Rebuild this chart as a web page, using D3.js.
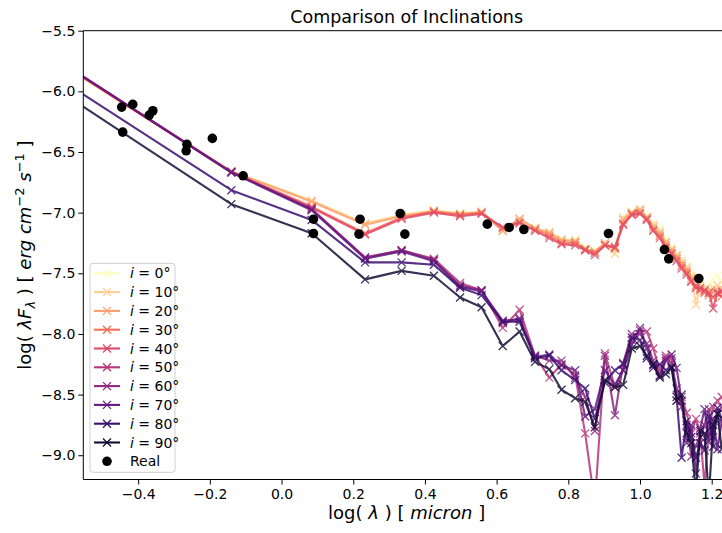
<!DOCTYPE html>
<html lang="en">
<head>
  <meta charset="UTF-8">
  <title>Comparison of Inclinations</title>
  <script src="https://d3js.org/d3.v7.min.js"></script>
  <style>
    html, body {
      margin: 0;
      padding: 0;
      background: white;
      overflow: hidden;
    }
    svg {
      display: block;
      font-family: "DejaVu Sans", sans-serif;
    }
  </style>
</head>
<body>
<svg id="chart" width="722" height="533"></svg>

<script>
  // model wavelength grid, log(lambda / micron)
  const logLam = [-0.70, -0.14, 0.084, 0.233, 0.335, 0.425, 0.498, 0.558, 0.617, 0.664,
    0.707, 0.747, 0.781, 0.819, 0.847, 0.874, 0.902, 0.930, 0.953, 0.977,
    1.000, 1.019, 1.037, 1.055, 1.072, 1.088, 1.102, 1.116, 1.130, 1.143,
    1.156, 1.168, 1.180, 1.192, 1.204, 1.216, 1.228, 1.240];

  const inclinations = [0, 10, 20, 30, 40, 50, 60, 70, 80, 90];

  // log(lambda F_lambda) for each inclination
  const fluxI0 = [-5.62, -6.66, -6.90, -7.09, -7.02, -6.98, -7.00, -6.99, -7.14, -7.07,
    -7.12, -7.17, -7.22, -7.22, -7.28, -7.31, -7.27, -7.33, -7.05, -6.99,
    -6.97, -7.03, -7.08, -7.13, -7.22, -7.28, -7.33, -7.38, -7.44, -7.49,
    -7.55, -7.58, -7.60, -7.62, -7.55, -7.52, -7.58, -7.60];
  const fluxI10 = [-5.62, -6.66, -6.90, -7.09, -7.02, -6.98, -7.01, -6.99, -7.15, -7.06,
    -7.13, -7.16, -7.22, -7.23, -7.30, -7.33, -7.26, -7.34, -7.04, -7.00,
    -6.97, -7.04, -7.10, -7.15, -7.24, -7.30, -7.35, -7.40, -7.45, -7.52,
    -7.76, -7.60, -7.63, -7.64, -7.62, -7.60, -7.63, -7.66];
  const fluxI20 = [-5.61, -6.66, -6.91, -7.10, -7.03, -6.99, -7.01, -7.00, -7.15, -7.05,
    -7.13, -7.17, -7.23, -7.24, -7.31, -7.32, -7.25, -7.30, -7.06, -7.00,
    -6.98, -7.04, -7.12, -7.17, -7.25, -7.31, -7.36, -7.42, -7.47, -7.54,
    -7.62, -7.63, -7.65, -7.66, -7.66, -7.64, -7.66, -7.68];
  const fluxI30 = [-5.61, -6.665, -6.95, -7.17, -7.04, -6.99, -7.02, -7.00, -7.13, -7.09,
    -7.14, -7.19, -7.25, -7.25, -7.30, -7.33, -7.27, -7.28, -7.09, -7.01,
    -7.00, -7.05, -7.14, -7.19, -7.27, -7.33, -7.38, -7.44, -7.49, -7.56,
    -7.60, -7.64, -7.66, -7.68, -7.70, -7.67, -7.69, -7.71];
  const fluxI40 = [-5.60, -6.665, -6.96, -7.18, -7.05, -7.00, -7.03, -7.01, -7.12, -7.08,
    -7.15, -7.21, -7.26, -7.27, -7.31, -7.35, -7.27, -7.29, -7.10, -7.02,
    -7.01, -7.06, -7.15, -7.21, -7.29, -7.34, -7.40, -7.46, -7.51, -7.57,
    -7.62, -7.62, -7.64, -7.66, -7.79, -7.66, -7.65, -7.70];
  const fluxI50 = [-5.60, -6.665, -6.97, -7.37, -7.31, -7.38, -7.58, -7.64, -7.95, -7.80,
    -8.18, -8.36, -8.25, -8.34, -8.82, -9.40, -8.16, -8.44, -8.30, -8.05,
    -7.97, -7.98, -8.12, -8.30, -8.18, -8.20, -8.55, -8.52, -8.65, -8.82,
    -8.70, -8.82, -9.25, -8.80, -8.60, -8.55, -8.52, -8.58];
  const fluxI60 = [-5.60, -6.665, -6.97, -7.37, -7.31, -7.39, -7.60, -7.64, -7.91, -7.87,
    -8.18, -8.22, -8.22, -8.36, -8.52, -8.80, -8.18, -8.67, -8.24, -8.00,
    -8.00, -8.08, -8.22, -8.34, -8.20, -8.24, -8.45, -8.60, -8.75, -9.01,
    -8.92, -8.85, -8.75, -8.62, -8.85, -8.66, -8.60, -8.65];
  const fluxI70 = [-5.60, -6.67, -6.98, -7.38, -7.32, -7.40, -7.61, -7.65, -7.89, -7.88,
    -8.19, -8.17, -8.26, -8.30, -8.68, -8.62, -8.30, -8.42, -8.30, -8.09,
    -7.95, -8.12, -8.26, -8.35, -8.22, -8.17, -8.28, -8.55, -8.90, -8.75,
    -9.15, -8.78, -8.62, -8.88, -8.70, -8.95, -8.72, -8.80];
  const fluxI80 = [-5.745, -6.815, -7.06, -7.41, -7.41, -7.43, -7.62, -7.68, -7.90, -7.90,
    -8.20, -8.18, -8.30, -8.38, -8.45, -8.70, -8.40, -8.30, -8.25, -8.03,
    -8.05, -8.20, -8.28, -8.25, -8.30, -8.27, -8.52, -9.02, -8.72, -8.85,
    -9.02, -8.90, -8.96, -8.68, -8.93, -8.61, -8.70, -8.75];
  const fluxI90 = [-5.84, -6.93, -7.17, -7.55, -7.48, -7.52, -7.70, -7.78, -8.10, -7.98,
    -8.23, -8.29, -8.46, -8.53, -8.56, -8.77, -8.38, -8.44, -8.42, -8.12,
    -8.10, -8.18, -8.25, -8.36, -8.33, -8.28, -8.55, -8.50, -8.82, -8.90,
    -9.30, -8.80, -8.82, -9.35, -8.75, -8.66, -8.95, -8.85];

  const fluxSeries = [fluxI0, fluxI10, fluxI20, fluxI30, fluxI40,
    fluxI50, fluxI60, fluxI70, fluxI80, fluxI90];

  // observed photometry
  const realLogLam = [-0.446, -0.443, -0.415, -0.369, -0.359, -0.264, -0.266, -0.193, -0.107,
    0.089, 0.089, 0.219, 0.216, 0.331, 0.344, 0.574, 0.635, 0.676,
    0.912, 1.068, 1.080, 1.164];
  const realFlux = [-6.13, -6.336, -6.107, -6.196, -6.16, -6.437, -6.49, -6.388, -6.696,
    -7.054, -7.172, -7.054, -7.177, -7.007, -7.177, -7.095, -7.122, -7.139,
    -7.172, -7.304, -7.381, -7.543];

  const xTicks = [-0.4, -0.2, 0.0, 0.2, 0.4, 0.6, 0.8, 1.0, 1.2];
  const yTicks = [-5.5, -6.0, -6.5, -7.0, -7.5, -8.0, -8.5, -9.0];

  const plotLeft = 83.3, plotRight = 730, plotTop = 30.7, plotBottom = 479.5;

  const svg = d3.select("#chart");

  const x = d3.scaleLinear().domain([-0.553, 1.251]).range([plotLeft, plotRight]);
  const y = d3.scaleLinear().domain([-9.2, -5.5]).range([plotBottom, plotTop]);

  svg.append("defs").append("clipPath")
    .attr("id", "plotArea")
    .append("rect")
    .attr("x", plotLeft).attr("y", plotTop)
    .attr("width", plotRight - plotLeft).attr("height", plotBottom - plotTop);

  const colorOf = k => d3.interpolateMagma(1 - k * 0.1);
  const crossPath = "M-4,-4L4,4M-4,4L4,-4";

  const plot = svg.append("g").attr("clip-path", "url(#plotArea)");

  const line = d3.line()
    .x((d, i) => x(logLam[i]))
    .y(d => y(d));

  fluxSeries.forEach((vals, k) => {
    const g = plot.append("g").attr("opacity", 0.85);
    g.append("path")
      .attr("d", line(vals))
      .attr("fill", "none")
      .attr("stroke", colorOf(k))
      .attr("stroke-width", 2.1)
      .attr("stroke-linejoin", "round");
    g.selectAll("path.mk")
      .data(vals)
      .join("path")
      .attr("class", "mk")
      .attr("d", crossPath)
      .attr("transform", (d, i) => `translate(${x(logLam[i])},${y(d)})`)
      .attr("stroke", colorOf(k))
      .attr("stroke-width", 1.3)
      .attr("fill", "none");
  });

  plot.append("g")
    .selectAll("circle")
    .data(realLogLam)
    .join("circle")
    .attr("cx", d => x(d))
    .attr("cy", (d, i) => y(realFlux[i]))
    .attr("r", 4.8)
    .attr("fill", "black");

  // axes
  const xAxis = svg.append("g")
    .attr("transform", `translate(0,${plotBottom})`)
    .call(d3.axisBottom(x).tickValues(xTicks).tickFormat(d3.format(".1f"))
      .tickSize(5).tickPadding(5).tickSizeOuter(0));
  const yAxis = svg.append("g")
    .attr("transform", `translate(${plotLeft},0)`)
    .call(d3.axisLeft(y).tickValues(yTicks).tickFormat(d3.format(".1f"))
      .tickSize(5).tickPadding(3).tickSizeOuter(0));

  [xAxis, yAxis].forEach(a => {
    a.select(".domain").remove();
    a.selectAll("text")
      .attr("font-family", "DejaVu Sans, sans-serif")
      .attr("font-size", 14)
      .attr("fill", "black");
    a.selectAll("line").attr("stroke", "black").attr("stroke-width", 1);
  });

  // spines
  svg.append("line").attr("x1", plotLeft).attr("x2", plotLeft).attr("y1", plotTop).attr("y2", plotBottom)
    .attr("stroke", "black").attr("stroke-width", 1);
  svg.append("line").attr("x1", plotLeft).attr("x2", plotRight).attr("y1", plotBottom).attr("y2", plotBottom)
    .attr("stroke", "black").attr("stroke-width", 1);
  svg.append("line").attr("x1", plotLeft).attr("x2", plotRight).attr("y1", plotTop).attr("y2", plotTop)
    .attr("stroke", "black").attr("stroke-width", 1);

  // title and labels
  svg.append("text")
    .attr("x", (plotLeft + plotRight) / 2)
    .attr("y", 23)
    .attr("text-anchor", "middle")
    .attr("font-size", 17.5)
    .text("Comparison of Inclinations");

  const xl = svg.append("text")
    .attr("x", (plotLeft + plotRight) / 2)
    .attr("y", 519)
    .attr("text-anchor", "middle")
    .attr("font-size", 18);
  xl.append("tspan").text("log( ");
  xl.append("tspan").attr("font-style", "italic").text("λ");
  xl.append("tspan").text(" ) [ ");
  xl.append("tspan").attr("font-style", "italic").text("micron");
  xl.append("tspan").text(" ]");

  const yl = svg.append("text")
    .attr("transform", `translate(31,${(plotTop + plotBottom) / 2}) rotate(-90)`)
    .attr("text-anchor", "middle")
    .attr("font-size", 18);
  yl.append("tspan").text("log( ");
  yl.append("tspan").attr("font-style", "italic").text("λF");
  yl.append("tspan").attr("font-style", "italic").attr("font-size", 13).attr("dy", 4).text("λ");
  yl.append("tspan").attr("dy", -4).text(" ) [ ");
  yl.append("tspan").attr("font-style", "italic").text("erg cm");
  yl.append("tspan").attr("font-size", 13).attr("dy", -7).text("−2");
  yl.append("tspan").attr("font-style", "italic").attr("dy", 7).text(" s");
  yl.append("tspan").attr("font-size", 13).attr("dy", -7).text("−1");
  yl.append("tspan").attr("dy", 7).text(" ]");

  // legend
  const legend = svg.append("g");
  legend.append("rect")
    .attr("x", 90).attr("y", 263.3)
    .attr("width", 85).attr("height", 209)
    .attr("rx", 3)
    .attr("fill", "white").attr("fill-opacity", 0.8)
    .attr("stroke", "#d0d0d0").attr("stroke-width", 1);

  inclinations.forEach((inc, k) => {
    const cy = 273.3 + k * 18.8;
    legend.append("line")
      .attr("x1", 94).attr("x2", 120).attr("y1", cy).attr("y2", cy)
      .attr("stroke", colorOf(k)).attr("stroke-width", 2.1);
    legend.append("path")
      .attr("d", crossPath)
      .attr("transform", `translate(107,${cy})`)
      .attr("stroke", colorOf(k)).attr("stroke-width", 1.3);
    const t = legend.append("text")
      .attr("x", 130).attr("y", cy + 5)
      .attr("font-size", 14);
    t.append("tspan").attr("font-style", "italic").text("i");
    t.append("tspan").text(" = " + inc + "°");
  });
  const realY = 273.3 + 10 * 18.8;
  legend.append("circle").attr("cx", 107).attr("cy", realY).attr("r", 4.8).attr("fill", "black");
  legend.append("text").attr("x", 130).attr("y", realY + 5).attr("font-size", 14).text("Real");
</script>
</body>
</html>
